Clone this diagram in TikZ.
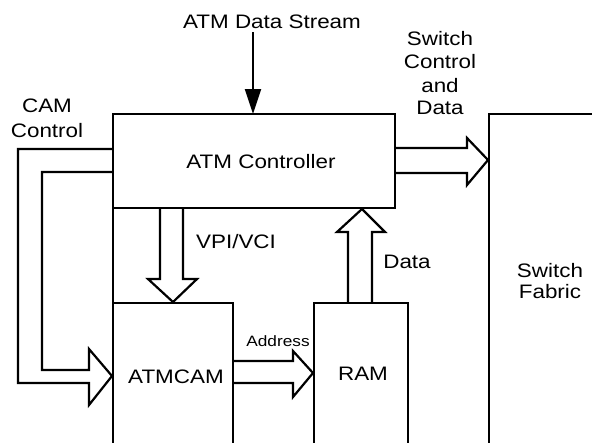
\documentclass[tikz,border=0pt]{standalone}
\usepackage{fontspec}
\setmainfont{Liberation Sans}
\usetikzlibrary{arrows.meta}
\tikzset{
  lw/.style={line width=2.2pt},
  box/.style={lw, draw=black, rectangle, inner sep=0pt},
  lbl/.style={anchor=base, inner sep=0pt, xscale=1.15, font=\fontsize{19.5}{23}\selectfont, align=center},
  small/.style={anchor=base, inner sep=0pt, xscale=1.15, font=\fontsize{15}{18}\selectfont},
  blockarrow/.style={lw, draw=black, miter limit=10},
}
\begin{document}
\begin{tikzpicture}[x=1pt,y=-1pt]
\useasboundingbox (0,0) rectangle (592,442);
\clip (0,0) rectangle (592,442);
% boxes
\draw[box] (113,460) -- (113,114) -- (395,114) -- (395,208) -- (113,208) -- cycle;
\node[minimum width=282pt, minimum height=94pt] (ctrl) at (254,161) {};
\draw[box] (113,460) -- (113,303) -- (233,303) -- (233,460);
\node[minimum width=120pt, minimum height=157pt] (cam) at (173,381.5) {};
\draw[box] (314,460) -- (314,303) -- (408,303) -- (408,460);
\node[minimum width=94pt, minimum height=157pt] (ram) at (361,381.5) {};
\draw[box] (489,460) -- (489,114) -- (600,114);
\node[minimum width=120pt, minimum height=340pt] (fab) at (549,284) {};
% ATM Data Stream arrow
\coordinate (src) at (253,32);
\draw[lw, -{Triangle[width=16pt,length=25pt]}] (src) -- (253,114);
% CAM control arrow
\draw[blockarrow] (113,149) -- (18,149) -- (18,383) -- (89,383) -- (89,405) -- (112,376) -- (89,349) -- (89,370) -- (42,370) -- (42,172) -- (113,172);
% VPI/VCI arrow
\draw[blockarrow] (160,208) -- (160,279) -- (148,279) -- (173,302) -- (197,279) -- (183,279) -- (183,208);
% Data arrow
\draw[blockarrow] (348,303) -- (348,232) -- (337,232) -- (362,209) -- (385,232) -- (372,232) -- (372,303);
% Address arrow
\draw[blockarrow] (233,361) -- (293,361) -- (293,351) -- (313,373) -- (293,397) -- (293,383) -- (233,383);
% Switch control arrow
\draw[blockarrow] (395,148) -- (467,148) -- (467,138) -- (488,160) -- (467,185) -- (467,173) -- (395,173);
% labels
\node[lbl] (tstream) at (272,28) {ATM Data Stream};
\node[lbl] (tsw1) at (440,45) {Switch};
\node[lbl] (tsw2) at (440,68) {Control};
\node[lbl] (tsw3) at (440,92) {and};
\node[lbl] (tsw4) at (440,114) {Data};
\node[lbl] (tcam1) at (47,112) {CAM};
\node[lbl] (tcam2) at (47,137) {Control};
\node[lbl] (tctrl) at (261,168) {ATM Controller};
\node[lbl] (tvpi) at (236,248) {VPI/VCI};
\node[lbl] (tdata) at (407,268) {Data};
\node[lbl] (tfab1) at (550,277) {Switch};
\node[lbl] (tfab2) at (550,298) {Fabric};
\node[lbl] (tatmcam) at (176,383) {ATMCAM};
\node[small] (taddr) at (278,346) {Address};
\node[lbl] (tram) at (363,380) {RAM};
\end{tikzpicture}
\end{document}
